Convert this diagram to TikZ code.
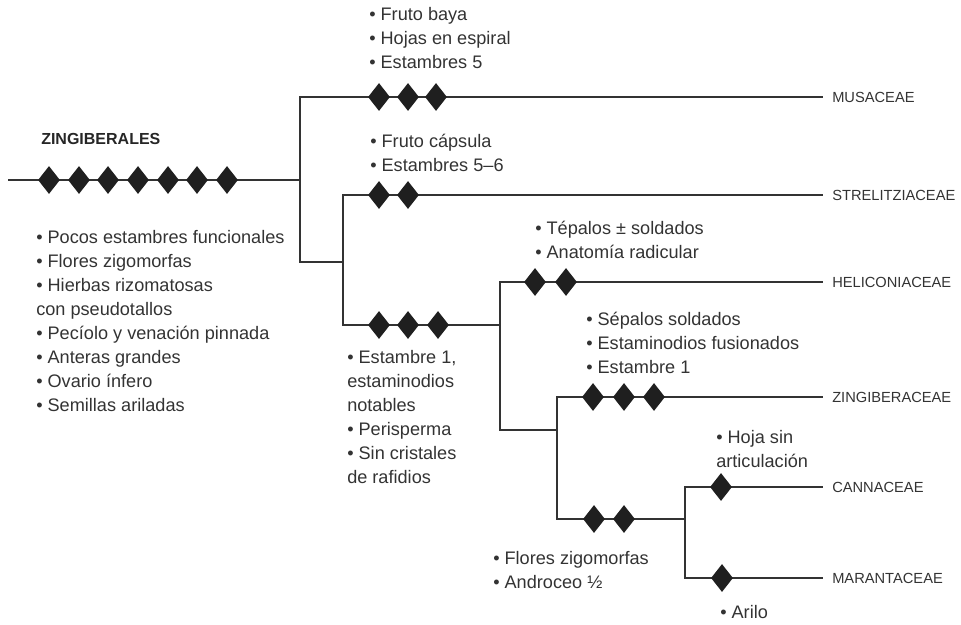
\documentclass[tikz,border=0pt]{standalone}
\usepackage{fontspec}
\setmainfont{Liberation Sans}
\usetikzlibrary{shapes.geometric}

\begin{document}
\begin{tikzpicture}[x=0.75pt, y=-0.75pt,
            branch/.style={draw=black!80, line width=0.8pt},
            syn/.style={diamond, fill=black!88, inner sep=0pt, minimum width=16.5pt, minimum height=21pt},
            taxon/.style={anchor=west, inner xsep=6.75pt, inner ysep=0pt, font=\fontsize{11}{13}\selectfont, text=black!80},
            notes/.style={anchor=base west, inner sep=0pt, align=left, font=\fontsize{13.6}{18}\selectfont, text=black!80}]
            \useasboundingbox (0,0) rectangle (961,625);

            % junctions
            \coordinate (root) at (8,180);
            \coordinate (n1) at (300,180);
            \coordinate (n2) at (343,262);
            \coordinate (n3) at (500,325);
            \coordinate (n4) at (557,430);
            \coordinate (n5) at (685,519);

            % taxa
            \node[taxon] (musa) at (823,97) {MUSACEAE};
            \node[taxon] (strel) at (823,195) {STRELITZIACEAE};
            \node[taxon] (helic) at (823,282) {HELICONIACEAE};
            \node[taxon] (zingi) at (823,397) {ZINGIBERACEAE};
            \node[taxon] (canna) at (823,487) {CANNACEAE};
            \node[taxon] (maran) at (823,578) {MARANTACEAE};

            \draw[branch] (root) -- (n1);
            \draw[branch] (n1) |- (musa.west);
            \draw[branch] (n1) |- (n2);
            \draw[branch] (n2) |- (strel.west);
            \draw[branch] (n2) |- (n3);
            \draw[branch] (n3) |- (helic.west);
            \draw[branch] (n3) |- (n4);
            \draw[branch] (n4) |- (zingi.west);
            \draw[branch] (n4) |- (n5);
            \draw[branch] (n5) |- (canna.west);
            \draw[branch] (n5) |- (maran.west);

            % synapomorphies
            \foreach \x [count=\i] in {49,79,108,138,168,197,227} \node[syn] (r\i) at (\x,180) {};
            \foreach \x [count=\i] in {379,408,436} \node[syn] (mu\i) at (\x,97) {};
            \foreach \x [count=\i] in {379,408} \node[syn] (st\i) at (\x,195) {};
            \foreach \x [count=\i] in {379,408,438} \node[syn] (n3s\i) at (\x,325) {};
            \foreach \x [count=\i] in {535,566} \node[syn] (he\i) at (\x,282) {};
            \foreach \x [count=\i] in {593,624,654} \node[syn] (zi\i) at (\x,397) {};
            \foreach \x [count=\i] in {594,624} \node[syn] (n5s\i) at (\x,519) {};
            \node[syn] (ca1) at (721,487) {};
            \node[syn] (ma1) at (722,578) {};

            % texts (anchored at the baseline of the last line)
            \node[anchor=base west, inner sep=0pt, font=\bfseries\fontsize{12}{14}\selectfont, text=black!85] (order) at (41,144) {ZINGIBERALES};
            \node[notes] (rootnotes) at (36,411) {• Pocos estambres funcionales\\ • Flores zigomorfas\\ • Hierbas rizomatosas\\ con pseudotallos\\ • Pecíolo y venación pinnada\\ • Anteras grandes\\ • Ovario ínfero\\ • Semillas ariladas};
            \node[notes] (musanotes) at (369,68) {• Fruto baya\\ • Hojas en espiral\\ • Estambres 5};
            \node[notes] (strelnotes) at (370,171) {• Fruto cápsula\\ • Estambres 5–6};
            \node[notes] (helicnotes) at (535,258) {• Tépalos ± soldados\\ • Anatomía radicular};
            \node[notes] (zinginotes) at (586,373) {• Sépalos soldados\\ • Estaminodios fusionados\\ • Estambre 1};
            \node[notes] (n3notes) at (347,483) {• Estambre 1,\\ estaminodios\\ notables\\ • Perisperma\\ • Sin cristales\\ de rafidios};
            \node[notes] (cannanotes) at (716,467) {• Hoja sin\\ articulación};
            \node[notes] (n5notes) at (493,588) {• Flores zigomorfas\\ • Androceo ½};
            \node[notes] (marannotes) at (720,618) {• Arilo};
        \end{tikzpicture}
\end{document}
